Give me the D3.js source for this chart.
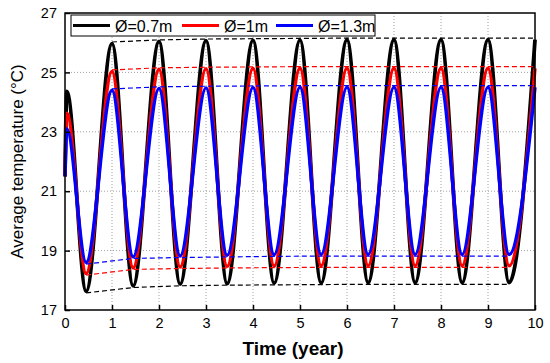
<!DOCTYPE html>
<html>
<head>
<meta charset="utf-8">
<script src="https://cdn.jsdelivr.net/npm/d3@7"></script>
<style>
  body { margin: 0; background: #fff; }
  text { font-family: "Liberation Sans", Arial, sans-serif; }
</style>
</head>
<body>
<svg id="chart" width="550" height="363"></svg>
<script>
// values
const startTimes = [0, 0.04];
const troughTimes = [0.45, 1.45, 2.45, 3.45, 4.45, 5.45, 6.45, 7.45, 8.45, 9.45];
const peakTimes = [1, 2, 3, 4, 5, 6, 7, 8, 9, 10];

const blackStart = [21.5, 24.36];
const blackTroughs = [17.63, 17.81, 17.87, 17.89, 17.9, 17.91, 17.92, 17.92, 17.92, 17.92];
const blackPeaks = [25.97, 26.04, 26.07, 26.08, 26.09, 26.1, 26.1, 26.1, 26.1, 26.1];

const redStart = [21.5, 23.63];
const redTroughs = [18.23, 18.42, 18.45, 18.47, 18.48, 18.49, 18.49, 18.49, 18.49, 18.49];
const redPeaks = [25.03, 25.1, 25.12, 25.13, 25.14, 25.14, 25.14, 25.14, 25.14, 25.14];

const blueStart = [21.5, 23.1];
const blueTroughs = [18.6, 18.79, 18.82, 18.84, 18.86, 18.87, 18.87, 18.87, 18.87, 18.87];
const bluePeaks = [24.39, 24.46, 24.48, 24.49, 24.5, 24.5, 24.5, 24.5, 24.5, 24.5];

const seriesNames = ["Ø=0.7m", "Ø=1m", "Ø=1.3m"];
const seriesColors = ["#000000", "#ff0000", "#0000ff"];
const seriesWidths = [3.8, 3.4, 3.4];

const xTicks = [0, 1, 2, 3, 4, 5, 6, 7, 8, 9, 10];
const yTicks = [17, 19, 21, 23, 25, 27];

// helpers
function zip(ts, vs) {
    return ts.map((t, i) => ({t: t, v: vs[i]}));
}

function buildSeries(start, troughs, peaks) {
    let pts = zip(startTimes, start)
        .concat(zip(troughTimes, troughs))
        .concat(zip(peakTimes, peaks));
    pts.sort((a, b) => a.t - b.t);
    return {points: pts, troughs: zip(troughTimes, troughs), peaks: zip(peakTimes, peaks)};
}

const series = [
    buildSeries(blackStart, blackTroughs, blackPeaks),
    buildSeries(redStart, redTroughs, redPeaks),
    buildSeries(blueStart, blueTroughs, bluePeaks)
];

let margin = {top: 13, right: 15, bottom: 53, left: 65};
let width = 550 - margin.left - margin.right;
let height = 363 - margin.top - margin.bottom;

let svg = d3.select("#chart");
let g = svg.append("g").attr("transform", "translate(" + margin.left + "," + margin.top + ")");

let x = d3.scaleLinear().domain([0, 10]).range([0, width]);
let y = d3.scaleLinear().domain([17, 27]).range([height, 0]);

// grid
g.append("g").selectAll("line").data(xTicks.filter(d => d > 0 && d < 10)).enter().append("line")
    .attr("x1", d => x(d)).attr("x2", d => x(d))
    .attr("y1", 0).attr("y2", height)
    .attr("stroke", "#a0a0a0").attr("stroke-width", 1).attr("stroke-dasharray", "1,2");
g.append("g").selectAll("line").data(yTicks.filter(d => d > 17 && d < 27)).enter().append("line")
    .attr("y1", d => y(d)).attr("y2", d => y(d))
    .attr("x1", 0).attr("x2", width)
    .attr("stroke", "#a0a0a0").attr("stroke-width", 1).attr("stroke-dasharray", "1,2");

// curves
let line = d3.line().x(d => x(d.t)).y(d => y(d.v)).curve(d3.curveMonotoneX);
let straight = d3.line().x(d => x(d.t)).y(d => y(d.v));

series.forEach(function(s, i) {
    g.append("path")
        .attr("d", line(s.points))
        .attr("fill", "none")
        .attr("stroke", seriesColors[i])
        .attr("stroke-width", seriesWidths[i])
        .attr("stroke-linejoin", "round");
});

// envelope dashed lines, nudged to the stroke edge
series.forEach(function(s, i) {
    g.append("path")
        .attr("d", straight(s.peaks))
        .attr("transform", "translate(0,-1.6)")
        .attr("fill", "none")
        .attr("stroke", seriesColors[i])
        .attr("stroke-width", 1.2)
        .attr("stroke-dasharray", "5,3");
    g.append("path")
        .attr("d", straight(s.troughs))
        .attr("transform", "translate(0,1.6)")
        .attr("fill", "none")
        .attr("stroke", seriesColors[i])
        .attr("stroke-width", 1.2)
        .attr("stroke-dasharray", "5,3");
});

// axes
let xAxis = d3.axisBottom(x).tickValues(xTicks).tickSizeInner(-5).tickSizeOuter(0).tickPadding(8);
let yAxis = d3.axisLeft(y).tickValues(yTicks).tickSizeInner(-5).tickSizeOuter(0).tickPadding(8);

let gx = g.append("g").attr("transform", "translate(0," + height + ")").call(xAxis);
let gy = g.append("g").call(yAxis);
[gx, gy].forEach(function(a) {
    a.select(".domain").remove();
    a.selectAll("line").attr("stroke", "#000").attr("stroke-width", 1.5);
    a.selectAll("text").attr("font-size", 14.5).attr("fill", "#000")
        .style("font-family", "'Liberation Sans', Arial, sans-serif");
});

// frame
g.append("rect")
    .attr("x", 0).attr("y", 0).attr("width", width).attr("height", height)
    .attr("fill", "none").attr("stroke", "#000").attr("stroke-width", 1.5);

// axis labels
svg.append("text")
    .attr("x", margin.left + width / 2 - 7).attr("y", 355)
    .attr("text-anchor", "middle").attr("font-size", 19).attr("font-weight", "bold")
    .text("Time (year)");
svg.append("text")
    .attr("transform", "translate(23," + (margin.top + height / 2) + ") rotate(-90)")
    .attr("text-anchor", "middle").attr("font-size", 17)
    .text("Average temperature (°C)");

// legend
let legend = svg.append("g");
legend.append("rect")
    .attr("x", 71).attr("y", 15).attr("width", 304).attr("height", 21)
    .attr("fill", "#fff").attr("stroke", "#000").attr("stroke-width", 1);
let legendX = [73, 182, 276];
seriesNames.forEach(function(name, i) {
    legend.append("line")
        .attr("x1", legendX[i]).attr("x2", legendX[i] + 37)
        .attr("y1", 25.5).attr("y2", 25.5)
        .attr("stroke", seriesColors[i]).attr("stroke-width", 3);
    legend.append("text")
        .attr("x", legendX[i] + 42).attr("y", 31.5)
        .attr("font-size", 16)
        .text(name);
});
</script>
</body>
</html>
